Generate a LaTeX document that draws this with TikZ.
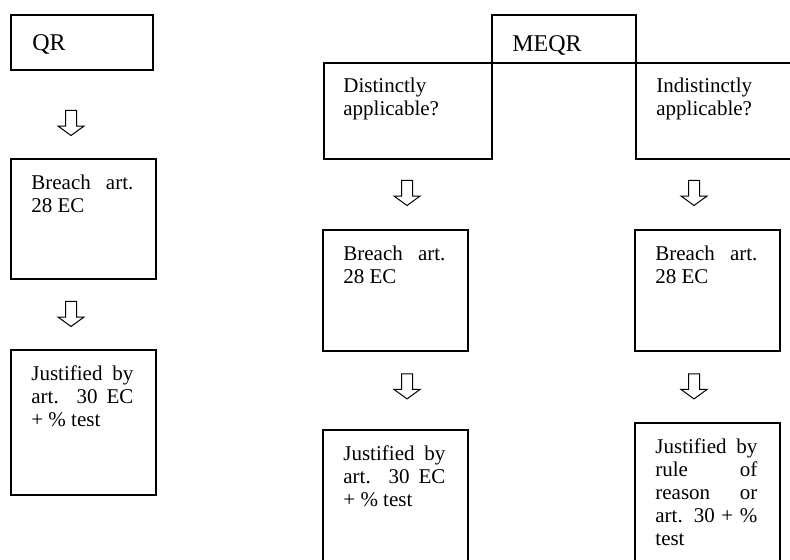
\documentclass[tikz,border=0pt]{standalone}
\usepackage{fontspec}
\setmainfont{Liberation Serif}
\usetikzlibrary{shapes.arrows}
\begin{document}
\begin{tikzpicture}[x=1pt, y=-1pt,
  box/.style={draw, line width=0.8pt, anchor=north west, inner sep=0pt},
  txt/.style={anchor=north west, inner sep=0pt, text width=51pt, align=justify,
    font=\fontsize{10.5}{11.5}\selectfont},
  ttl/.style={anchor=north west, inner sep=0pt, font=\fontsize{12}{14}\selectfont},
  dn/.style={single arrow, draw, line width=0.5pt, shape border rotate=270,
    minimum height=12.5pt, inner sep=2.5pt, single arrow head extend=3.75pt,
    single arrow tip angle=108, anchor=tail}]
  \useasboundingbox (0,0) rectangle (395,280);
  % QR
  \node[box, minimum width=71pt, minimum height=27.5pt] (qr) at (5,7) {};
  \node[ttl] (qr-t) at ([shift={(11,8.5)}]qr.north west) {\strut QR};
  \node[dn] (ar1) at (35.5,55) {};
  \node[box, minimum width=72.5pt, minimum height=60pt] (br1) at (5,79) {};
  \node[txt] (br1-t) at ([shift={(10.5,7.5)}]br1.north west) {\strut Breach art.\linebreak 28 EC};
  \node[dn] (ar2) at (35.5,150.5) {};
  \node[box, minimum width=72.5pt, minimum height=72.5pt] (ju1) at (5,174.5) {};
  \node[txt] (ju1-t) at ([shift={(10.5,7.5)}]ju1.north west) {\strut Justified by\linebreak art. 30 EC\linebreak + \% test};
  % MEQR
  \node[box, minimum width=72pt, minimum height=24pt] (meqr) at (245.5,7) {};
  \node[ttl] (meqr-t) at ([shift={(10.5,9)}]meqr.north west) {\strut MEQR};
  \node[box, minimum width=84pt, minimum height=48pt] (dis) at (161.5,31) {};
  \node[txt] (dis-t) at ([shift={(10,7)}]dis.north west) {\strut Distinctly\\applicable?};
  \node[box, minimum width=85pt, minimum height=48pt] (ind) at (317.5,31) {};
  \node[txt] (ind-t) at ([shift={(10.5,7)}]ind.north west) {\strut Indistinctly\\applicable?};
  % distinctly applicable
  \node[dn] (ar3) at (203.5,90) {};
  \node[box, minimum width=72.5pt, minimum height=60.5pt] (br2) at (161,114.5) {};
  \node[txt] (br2-t) at ([shift={(10.5,7.5)}]br2.north west) {\strut Breach art.\linebreak 28 EC};
  \node[dn] (ar5) at (203.5,186.7) {};
  \node[box, minimum width=72.5pt, minimum height=75pt] (ju2) at (161,214.5) {};
  \node[txt] (ju2-t) at ([shift={(10.5,7.5)}]ju2.north west) {\strut Justified by\linebreak art. 30 EC\linebreak + \% test};
  % indistinctly applicable
  \node[dn] (ar4) at (347,90) {};
  \node[box, minimum width=72.5pt, minimum height=60.5pt] (br3) at (317,114.5) {};
  \node[txt] (br3-t) at ([shift={(10.5,7.5)}]br3.north west) {\strut Breach art.\linebreak 28 EC};
  \node[dn] (ar6) at (347,186.7) {};
  \node[box, minimum width=72.5pt, minimum height=80pt] (ju3) at (317,211) {};
  \node[txt] (ju3-t) at ([shift={(10.5,7.5)}]ju3.north west) {\strut Justified by\linebreak rule of\linebreak reason or\linebreak art. 30 + \%\linebreak test};
\end{tikzpicture}
\end{document}
